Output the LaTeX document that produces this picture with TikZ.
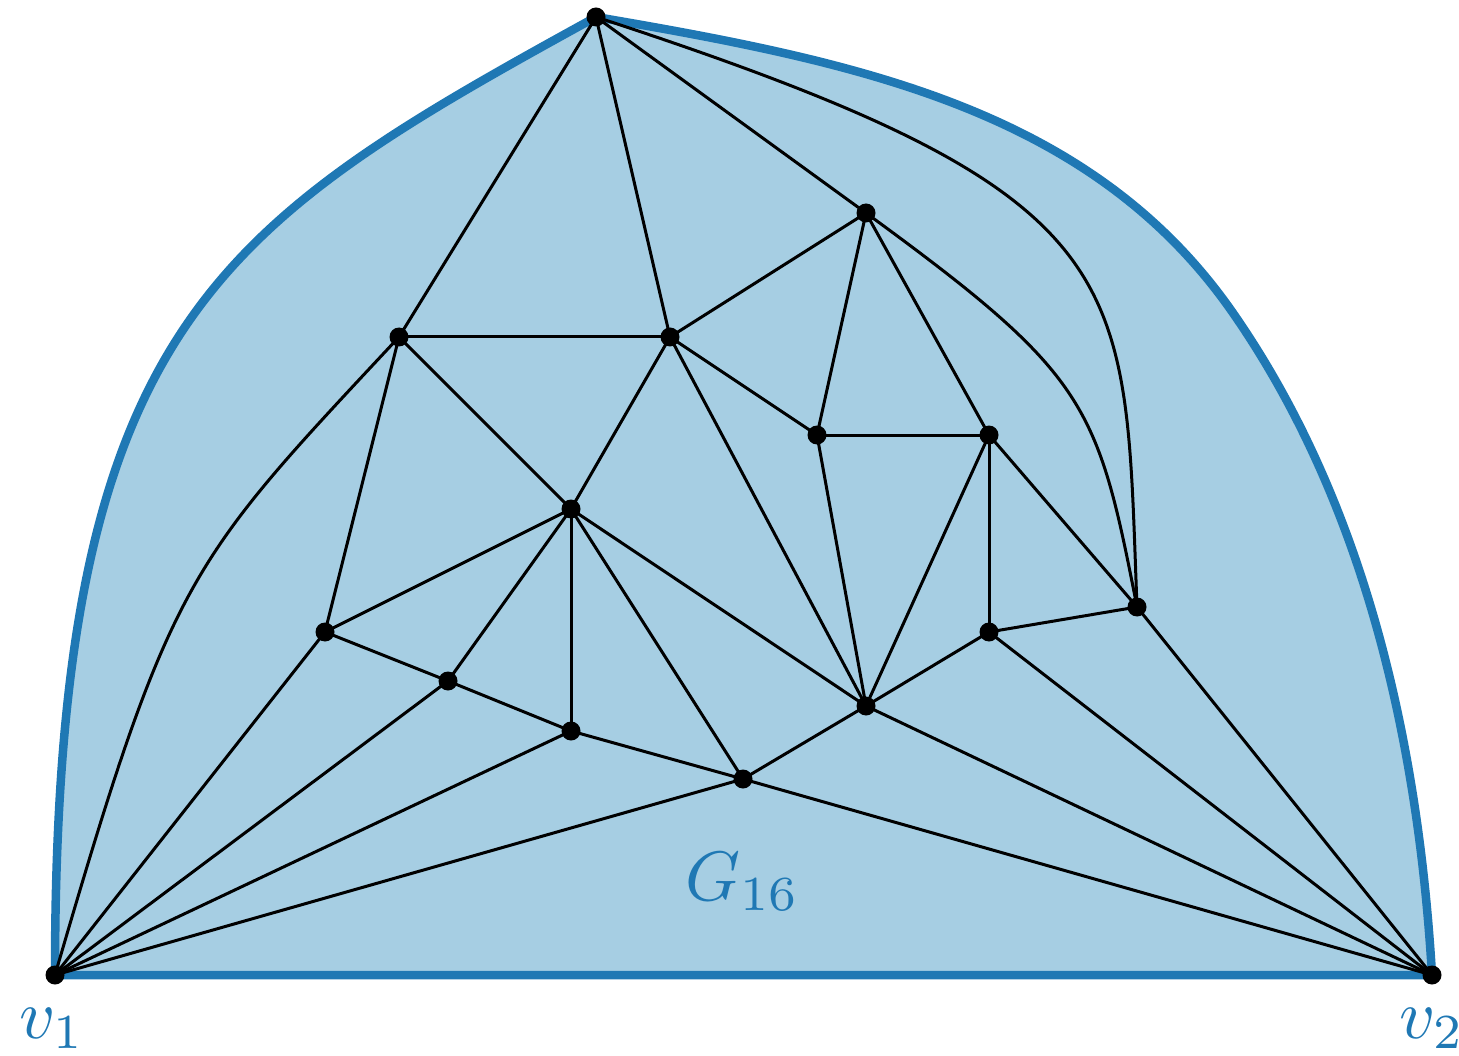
\documentclass[tikz,border=0pt]{standalone}
\definecolor{bfill}{RGB}{166,206,227}
\definecolor{bline}{RGB}{31,120,180}
\begin{document}
\begin{tikzpicture}[x=1pt,y=-1pt,
  boundary/.style={draw=bline,fill=bfill,line width=8.5pt,line join=round},
  edge/.style={draw=black,line width=3pt},
  dot/.style={circle,fill=black,inner sep=0pt,minimum size=19pt},
  lbl/.style={text=bline,scale=7,inner sep=0pt,anchor=base}]
\useasboundingbox (0,0) rectangle (1459,1056);
% vertices
\coordinate (v1) at (55,975);
\coordinate (v2) at (1432,975);
\coordinate (T) at (596,17);
\coordinate (A) at (399,337);
\coordinate (B) at (670,337);
\coordinate (C) at (866,213);
\coordinate (D) at (817,435);
\coordinate (E) at (989,435);
\coordinate (F) at (571,509);
\coordinate (G) at (325,632);
\coordinate (H) at (448,681);
\coordinate (I) at (571,731);
\coordinate (J) at (743,779);
\coordinate (K) at (866,706);
\coordinate (L) at (989,632);
\coordinate (M) at (1137,607);
\coordinate (S) at (1233,313);
% outer face
\path[boundary] (v1) .. controls (55,323) and (216,226) .. (T)
  .. controls (859,62) and (1092,110) .. (S)
  .. controls (1363,500) and (1418,737) .. (v2) -- cycle;
% curved edges
\draw[edge] (T) .. controls (1144,196) and (1124,271) .. (M);
\draw[edge] (C) .. controls (1088,375) and (1097,403) .. (M);
\draw[edge] (A) .. controls (188,563) and (172,573) .. (v1);
% straight edges
\draw[edge] (T) -- (A);
\draw[edge] (T) -- (B);
\draw[edge] (T) -- (C);
\draw[edge] (A) -- (B);
\draw[edge] (A) -- (F);
\draw[edge] (A) -- (G);
\draw[edge] (B) -- (C);
\draw[edge] (B) -- (F);
\draw[edge] (B) -- (D);
\draw[edge] (B) -- (K);
\draw[edge] (C) -- (D);
\draw[edge] (C) -- (E);
\draw[edge] (D) -- (E);
\draw[edge] (D) -- (K);
\draw[edge] (E) -- (K);
\draw[edge] (E) -- (L);
\draw[edge] (E) -- (M);
\draw[edge] (F) -- (G);
\draw[edge] (F) -- (H);
\draw[edge] (F) -- (I);
\draw[edge] (F) -- (J);
\draw[edge] (F) -- (K);
\draw[edge] (G) -- (H);
\draw[edge] (G) -- (v1);
\draw[edge] (H) -- (I);
\draw[edge] (H) -- (v1);
\draw[edge] (I) -- (J);
\draw[edge] (I) -- (v1);
\draw[edge] (J) -- (K);
\draw[edge] (J) -- (v1);
\draw[edge] (J) -- (v2);
\draw[edge] (K) -- (L);
\draw[edge] (K) -- (v2);
\draw[edge] (L) -- (M);
\draw[edge] (L) -- (v2);
\draw[edge] (M) -- (v2);
% dots
\foreach \p in {v1,v2,T,A,B,C,D,E,F,G,H,I,J,K,L,M}
  \node[dot] (d\p) at (\p) {};
% labels
\node[lbl] (lv1) at (52,1038) {$v_1$};
\node[lbl] (lv2) at (1432,1038) {$v_2$};
\node[lbl] (lg) at (743,900) {$G_{16}$};
\end{tikzpicture}
\end{document}
